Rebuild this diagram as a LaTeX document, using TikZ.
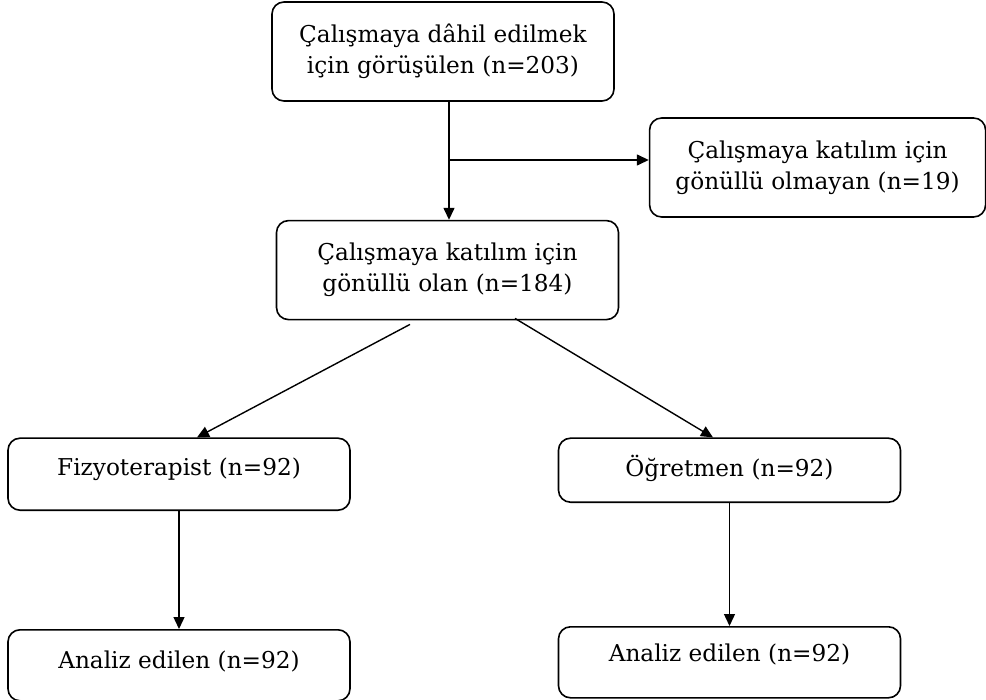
\documentclass[tikz,border=0pt]{standalone}
\usepackage{fontspec}
\setmainfont{DejaVu Serif}
\usetikzlibrary{arrows.meta, positioning}

\begin{document}
\begin{tikzpicture}[
    font=\fontsize{11.6}{15.5}\selectfont,
    box/.style={draw, rounded corners=6pt, line width=0.8pt, align=center,
                minimum width=171pt, minimum height=49.5pt, inner sep=2pt},
    sbox/.style={box, minimum height=36pt},
    arr/.style={-{Triangle[length=6pt, width=5.5pt]}, line width=0.7pt},
]
    \useasboundingbox (0,0) rectangle (493pt,-350pt);

    %==================== TOP ====================
    \node[box] (invited) at (221.5pt,-25.75pt)
        {Çalışmaya dâhil edilmek\\ için görüşülen (n=203)};

    %==================== EXCLUDED ====================
    \node[box, minimum width=168pt, right=17pt of invited, yshift=-58pt] (refused)
        {Çalışmaya katılım için\\ gönüllü olmayan (n=19)};

    %==================== VOLUNTEERS ====================
    \node[box, below=59pt of invited, xshift=2.25pt] (volunteer)
        {Çalışmaya katılım için\\ gönüllü olan (n=184)};

    \coordinate (split) at (224.5pt,-80pt);
    \draw[arr] (split |- invited.south) -- (split |- volunteer.north);
    \draw[arr] (split) -- (split -| refused.west);

    %==================== GROUPS ====================
    \node[sbox, text depth=7.5pt, below=58.5pt of volunteer, xshift=-134.25pt] (physio)
        {Fizyoterapist (n=92)};
    \node[sbox, minimum height=32pt, text depth=4.5pt, below=58.5pt of volunteer,
          xshift=141pt] (teacher)
        {Öğretmen (n=92)};

    \draw[arr] ([xshift=-18.75pt, yshift=-2pt]volunteer.south) -- ([xshift=9pt]physio.north);
    \draw[arr] ([xshift=33.75pt, yshift=1pt]volunteer.south) -- ([xshift=-8.25pt]teacher.north);

    %==================== ANALYSED ====================
    \node[sbox, minimum height=35.5pt, text depth=6pt, below=59pt of physio] (physioan)
        {Analiz edilen (n=92)};
    \node[sbox, minimum height=35.5pt, text depth=10pt, below=61.5pt of teacher] (teacheran)
        {Analiz edilen (n=92)};

    \draw[arr] (physio) -- (physioan);
    \draw[arr] (teacher) -- (teacheran);

\end{tikzpicture}
\end{document}
